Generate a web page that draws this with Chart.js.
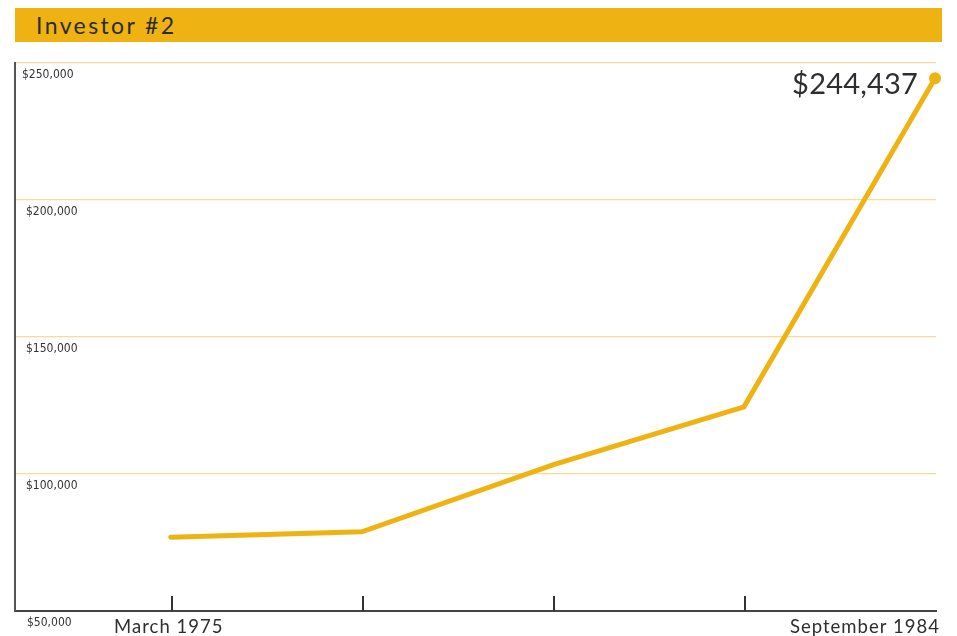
<!DOCTYPE html>
<html>
<head>
<meta charset="utf-8">
<script src="https://cdn.jsdelivr.net/npm/chart.js@4.4.1/dist/chart.umd.min.js"></script>
<style>
  html, body { margin: 0; padding: 0; background: #ffffff; }
  #wrap { position: relative; width: 957px; height: 636px; overflow: hidden; }
  #titlebar { position: absolute; left: 15px; top: 8px; width: 927px; height: 34px; background: #eeb212; }
  #titlebar span { position: absolute; left: 21px; top: 3px; font-family: Lato, sans-serif; font-size: 23px; letter-spacing: 2.4px; color: #2b2b2b; }
  #c { position: absolute; left: 0; top: 0; }
</style>
</head>
<body>
<div id="wrap">
  <canvas id="c" width="957" height="636"></canvas>
  <div id="titlebar"><span>Investor #2</span></div>
</div>
<script>
// ---- data ----
const periods = ['March 1975', '', '', '', 'September 1984'];
const values = [76900, 78900, 103300, 124500, 244437];
const yTicks = [50000, 100000, 150000, 200000, 250000];
const yTickLabels = ['$50,000', '$100,000', '$150,000', '$200,000', '$250,000'];
const finalLabel = '$244,437';

const gold = '#eeb312';
const ink = '#2e2e2e';

const points = values.map((v, i) => ({ x: i, y: v }));

const overlay = {
  id: 'overlay',
  afterDraw(chart) {
    const ctx = chart.ctx;
    const xs = chart.scales.x, ys = chart.scales.y;
    const bottom = ys.getPixelForValue(yTicks[0]);
    ctx.save();
    // inward tick marks on the x axis
    ctx.strokeStyle = '#333';
    ctx.lineWidth = 2;
    for (let i = 0; i < periods.length - 1; i++) {
      const px = Math.round(xs.getPixelForValue(i)) + 1;
      ctx.beginPath();
      ctx.moveTo(px, bottom - 15);
      ctx.lineTo(px, bottom);
      ctx.stroke();
    }
    // x labels
    ctx.fillStyle = ink;
    ctx.font = '18.5px Lato, sans-serif';
    ctx.letterSpacing = '1px';
    ctx.textBaseline = 'alphabetic';
    periods.forEach((lab, i) => {
      if (!lab) return;
      const px = xs.getPixelForValue(i);
      if (i === periods.length - 1) {
        ctx.textAlign = 'right';
        ctx.fillText(lab, px + 5, bottom + 22);
      } else {
        ctx.textAlign = 'center';
        ctx.fillText(lab, px - 2, bottom + 22);
      }
    });
    // y labels below each gridline
    ctx.letterSpacing = '0px';
    ctx.font = '12px "DejaVu Sans Condensed", "DejaVu Sans", sans-serif';
    ctx.textAlign = 'left';
    ctx.textBaseline = 'middle';
    ctx.fillStyle = '#333';
    yTicks.forEach((v, i) => {
      const py = ys.getPixelForValue(v);
      const lx = i === 0 ? 27 : (v === 250000 ? 22 : 26);
      ctx.fillText(yTickLabels[i], lx, py + 12);
    });
    // final value label
    const last = values.length - 1;
    const lx = xs.getPixelForValue(last);
    const ly = ys.getPixelForValue(values[last]);
    ctx.font = '29px Lato, sans-serif';
    ctx.letterSpacing = '0.2px';
    ctx.textAlign = 'right';
    ctx.textBaseline = 'middle';
    ctx.fillStyle = ink;
    ctx.fillText(finalLabel, lx - 17, ly + 6);
    ctx.restore();
  }
};

new Chart(document.getElementById('c'), {
  type: 'line',
  data: {
    datasets: [{
      data: points,
      borderColor: gold,
      backgroundColor: gold,
      borderWidth: 5,
      borderCapStyle: 'round',
      borderJoinStyle: 'miter',
      tension: 0,
      pointRadius: values.map((v, i) => i === values.length - 1 ? 6 : 0),
      pointBorderWidth: 0,
      pointBackgroundColor: gold,
      clip: false
    }]
  },
  options: {
    responsive: false,
    animation: false,
    events: [],
    layout: { padding: { left: 15, right: 21, top: 63, bottom: 25 } },
    plugins: { legend: { display: false }, tooltip: { enabled: false } },
    scales: {
      x: {
        type: 'linear',
        min: -0.815,
        max: 4.005,
        ticks: { display: false },
        grid: { display: false, drawTicks: false },
        border: { display: true, color: '#444', width: 2 }
      },
      y: {
        type: 'linear',
        min: yTicks[0],
        max: yTicks[yTicks.length - 1],
        afterBuildTicks: (s) => { s.ticks = yTicks.map(v => ({ value: v })); },
        ticks: { display: false },
        grid: {
          drawTicks: false,
          color: (c) => (c.tick && c.tick.value === yTicks[0]) ? 'rgba(0,0,0,0)' : '#f8dc95',
          lineWidth: 1.2
        },
        border: { display: true, color: '#555', width: 2 }
      }
    }
  },
  plugins: [overlay]
});
</script>
</body>
</html>
